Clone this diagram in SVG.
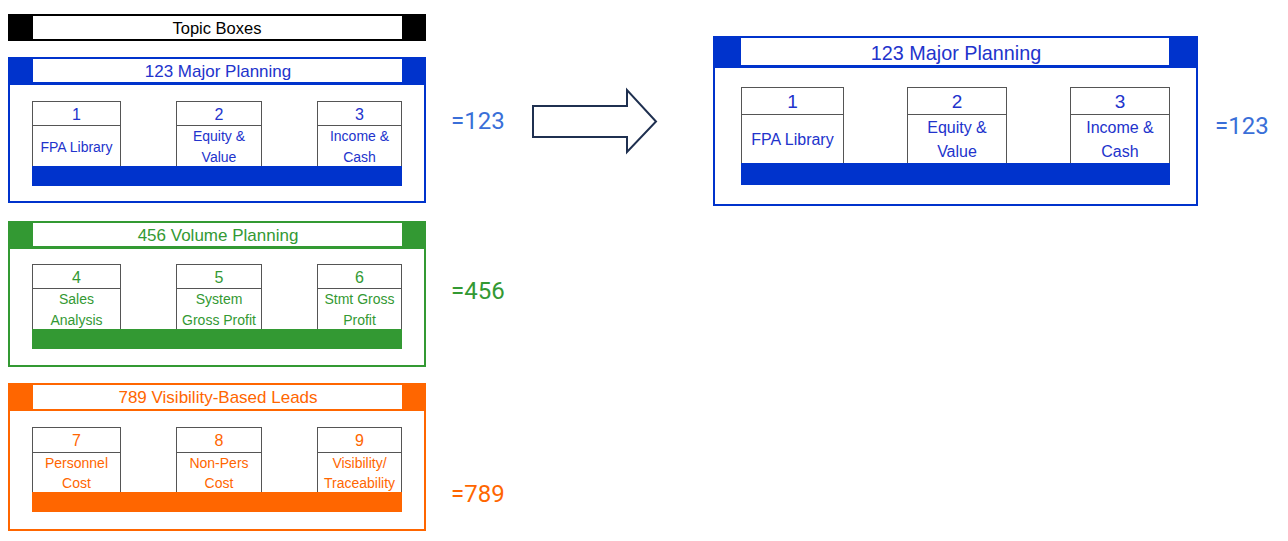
<svg xmlns="http://www.w3.org/2000/svg" width="1288" height="541" viewBox="0 0 1288 541">
<style>
.t{font-family:"Liberation Sans",Arial,sans-serif;text-anchor:middle}
.sb{fill:#fff;stroke:#555;stroke-width:1}
.blue .c{fill:#0033cc}.blue .s{stroke:#0033cc}.blue text{fill:#2233cc}
.green .c{fill:#339933}.green .s{stroke:#339933}.green text{fill:#339933}
.orange .c{fill:#ff6600}.orange .s{stroke:#ff6600}.orange text{fill:#ff6600}
.eq{font-family:Roboto,"Liberation Sans",sans-serif;font-size:24px}
</style>
<g id="topic-boxes">
<rect x="8" y="14" width="418" height="27" fill="#000"/>
<rect x="33" y="16" width="369" height="23" fill="#fff"/>
<text class="t" x="217" y="34" font-size="16.5" fill="#000">Topic Boxes</text>
</g>
<g id="box-123" class="blue" transform="translate(0,57)">
<rect class="s" x="9" y="1" width="416" height="144" fill="#fff" stroke-width="2"/>
<rect class="c" x="8" y="0" width="418" height="28"/>
<rect x="33" y="2" width="369" height="23" fill="#fff"/>
<text class="t" x="218" y="20" font-size="17">123 Major Planning</text>
<rect class="sb" x="32.5" y="44.5" width="88" height="65"/><line x1="32" y1="68.5" x2="121" y2="68.5" stroke="#555"/>
<rect class="sb" x="176.5" y="44.5" width="85" height="65"/><line x1="176" y1="68.5" x2="262" y2="68.5" stroke="#555"/>
<rect class="sb" x="317.5" y="44.5" width="84" height="65"/><line x1="317" y1="68.5" x2="402" y2="68.5" stroke="#555"/>
<rect class="c" x="32" y="109" width="370" height="20"/>
<g class="t" font-size="16"><text x="76.5" y="63">1</text><text x="219" y="63">2</text><text x="359.5" y="63">3</text></g>
<g class="t" font-size="14"><text x="76.5" y="95">FPA Library</text><text x="219" y="84">Equity &amp;</text><text x="219" y="105">Value</text><text x="359.5" y="84">Income &amp;</text><text x="359.5" y="105">Cash</text></g>
</g>
<g id="box-456" class="green" transform="translate(0,221)">
<rect class="s" x="9" y="1" width="416" height="144" fill="#fff" stroke-width="2"/>
<rect class="c" x="8" y="0" width="418" height="28"/>
<rect x="33" y="2" width="369" height="23" fill="#fff"/>
<text class="t" x="218" y="20" font-size="17">456 Volume Planning</text>
<rect class="sb" x="32.5" y="43.5" width="88" height="65"/><line x1="32" y1="67.5" x2="121" y2="67.5" stroke="#555"/>
<rect class="sb" x="176.5" y="43.5" width="85" height="65"/><line x1="176" y1="67.5" x2="262" y2="67.5" stroke="#555"/>
<rect class="sb" x="317.5" y="43.5" width="84" height="65"/><line x1="317" y1="67.5" x2="402" y2="67.5" stroke="#555"/>
<rect class="c" x="32" y="108" width="370" height="20"/>
<g class="t" font-size="16"><text x="76.5" y="62">4</text><text x="219" y="62">5</text><text x="359.5" y="62">6</text></g>
<g class="t" font-size="14"><text x="76.5" y="83">Sales</text><text x="76.5" y="104">Analysis</text><text x="219" y="83">System</text><text x="219" y="104">Gross Profit</text><text x="359.5" y="83">Stmt Gross</text><text x="359.5" y="104">Profit</text></g>
</g>
<g id="box-789" class="orange" transform="translate(0,383)">
<rect class="s" x="9" y="1" width="416" height="146" fill="#fff" stroke-width="2"/>
<rect class="c" x="8" y="0" width="418" height="28"/>
<rect x="33" y="2" width="369" height="24" fill="#fff"/>
<text class="t" x="218" y="20" font-size="17">789 Visibility-Based Leads</text>
<rect class="sb" x="32.5" y="44.5" width="88" height="65"/><line x1="32" y1="69.5" x2="121" y2="69.5" stroke="#555"/>
<rect class="sb" x="176.5" y="44.5" width="85" height="65"/><line x1="176" y1="69.5" x2="262" y2="69.5" stroke="#555"/>
<rect class="sb" x="317.5" y="44.5" width="84" height="65"/><line x1="317" y1="69.5" x2="402" y2="69.5" stroke="#555"/>
<rect class="c" x="32" y="109" width="370" height="20"/>
<g class="t" font-size="16"><text x="76.5" y="63">7</text><text x="219" y="63">8</text><text x="359.5" y="63">9</text></g>
<g class="t" font-size="14"><text x="76.5" y="85">Personnel</text><text x="76.5" y="105">Cost</text><text x="219" y="85">Non-Pers</text><text x="219" y="105">Cost</text><text x="359.5" y="85">Visibility/</text><text x="359.5" y="105">Traceability</text></g>
</g>
<g id="labels">
<text class="eq" x="451" y="129" fill="#3a6fd8">=123</text>
<text class="eq" x="451" y="299" fill="#339933">=456</text>
<text class="eq" x="451" y="502" fill="#ff6600">=789</text>
<text class="eq" x="1215" y="134" fill="#3a6fd8">=123</text>
</g>
<g id="connectors">
<path d="M533,106 H627 V90 L656,121.5 L627,152 V137 H533 Z" fill="#fff" stroke="#1f3050" stroke-width="2" stroke-linejoin="miter"/>
</g>
<g id="box-123-large" class="blue">
<rect class="s" x="714" y="37" width="483" height="168" fill="#fff" stroke-width="2"/>
<rect class="c" x="713" y="36" width="485" height="32"/>
<rect x="741" y="38" width="428" height="27" fill="#fff"/>
<text class="t" x="956" y="60" font-size="19.8">123 Major Planning</text>
<rect class="sb" x="741.5" y="87.5" width="102" height="76"/><line x1="741" y1="114.5" x2="844" y2="114.5" stroke="#555"/>
<rect class="sb" x="907.5" y="87.5" width="99" height="76"/><line x1="907" y1="114.5" x2="1007" y2="114.5" stroke="#555"/>
<rect class="sb" x="1070.5" y="87.5" width="99" height="76"/><line x1="1070" y1="114.5" x2="1170" y2="114.5" stroke="#555"/>
<rect class="c" x="741" y="163" width="429" height="22"/>
<g class="t" font-size="19"><text x="792.5" y="108">1</text><text x="957" y="108">2</text><text x="1120" y="108">3</text></g>
<g class="t" font-size="16"><text x="792.5" y="145">FPA Library</text><text x="957" y="133">Equity &amp;</text><text x="957" y="157">Value</text><text x="1120" y="133">Income &amp;</text><text x="1120" y="157">Cash</text></g>
</g>
</svg>
